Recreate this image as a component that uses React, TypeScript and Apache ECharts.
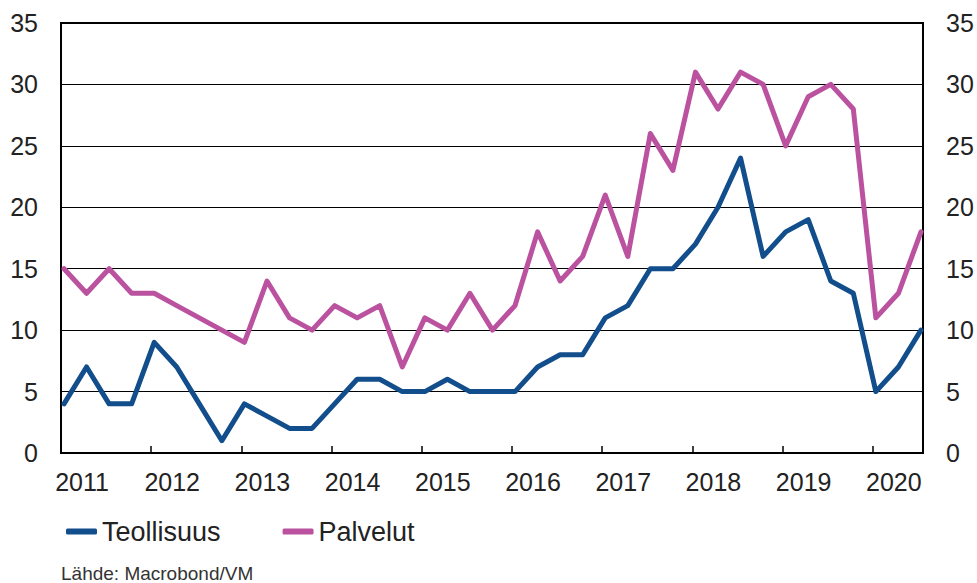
import React, { useEffect, useRef } from "react";
import * as echarts from "echarts";

const quarters: string[] = [];
for (let y = 2011; y <= 2020; y++) {
  for (let q = 1; q <= 4; q++) {
    if (y === 2020 && q === 4) break;
    quarters.push(`${y}Q${q}`);
  }
}

const teollisuus = [4, 7, 4, 4, 9, 7, 4, 1, 4, 3, 2, 2, 4, 6, 6, 5, 5, 6, 5, 5, 5, 7, 8, 8, 11, 12, 15, 15, 17, 20, 24, 16, 18, 19, 14, 13, 5, 7, 10];
const palvelut = [15, 13, 15, 13, 13, 12, 11, 10, 9, 14, 11, 10, 12, 11, 12, 7, 11, 10, 13, 10, 12, 18, 14, 16, 21, 16, 26, 23, 31, 28, 31, 30, 25, 29, 30, 28, 11, 13, 18];

const seriesNames = ["Teollisuus", "Palvelut"];
const yTicks = [0, 5, 10, 15, 20, 25, 30, 35];
const sourceText = "Lähde: Macrobond/VM";

const BLUE = "#114e8b";
const PINK = "#bb52a0";
const TEXT = "#222222";
const FONT = "'Liberation Sans', Arial, sans-serif";

export default function App() {
  const ref = useRef<HTMLDivElement>(null);

  useEffect(() => {
    document.body.style.margin = "0";
    if (!ref.current) return;
    const chart = echarts.init(ref.current, undefined, { renderer: "svg" });

    const toPairs = (arr: number[]) => arr.map((v, i) => [i, v]);

    const yAxisBase = {
      type: "value" as const,
      min: yTicks[0],
      max: yTicks[yTicks.length - 1],
      interval: 5,
      axisLine: { show: false },
      axisTick: { show: false },
      axisLabel: { color: TEXT, fontSize: 25, fontFamily: FONT, margin: 23 },
    };

    chart.setOption({
      animation: false,
      backgroundColor: "#ffffff",
      grid: {
        left: 61,
        top: 23,
        width: 862,
        height: 430,
        show: true,
        borderColor: "#000",
        borderWidth: 2,
        backgroundColor: "transparent",
      },
      xAxis: [
        {
          type: "value",
          min: -0.133,
          max: quarters.length - 1 + 0.09,
          show: false,
        },
        {
          type: "value",
          min: 2011,
          max: 2020.556,
          interval: 1,
          position: "bottom",
          axisLine: { show: true, lineStyle: { color: "#000", width: 2 } },
          axisTick: { show: true, inside: true, length: 7, lineStyle: { color: "#000", width: 1.5 } },
          splitLine: { show: false },
          axisLabel: {
            color: TEXT,
            fontSize: 25,
            fontFamily: FONT,
            margin: 16,
            padding: [0, 0, 0, 42],
            showMaxLabel: false,
            formatter: (v: number) => String(Math.round(v)),
          },
        },
      ],
      yAxis: [
        {
          ...yAxisBase,
          position: "left",
          splitLine: { show: true, lineStyle: { color: "#000", width: 1 } },
        },
        {
          ...yAxisBase,
          position: "right",
          splitLine: { show: false },
        },
      ],
      legend: {
        left: 61,
        top: 513,
        itemWidth: 31,
        itemHeight: 6,
        itemGap: 62,
        icon: "roundRect",
        textStyle: { color: TEXT, fontSize: 27, fontFamily: FONT },
        data: seriesNames,
      },
      graphic: [
        {
          type: "text",
          left: 61,
          top: 564,
          style: { text: sourceText, fill: "#333", fontSize: 19, fontFamily: FONT },
        },
      ],
      series: [
        {
          name: seriesNames[0],
          type: "line",
          xAxisIndex: 0,
          yAxisIndex: 0,
          data: toPairs(teollisuus),
          symbol: "none",
          lineStyle: { color: BLUE, width: 5, join: "round", cap: "round" },
          itemStyle: { color: BLUE },
          z: 3,
        },
        {
          name: seriesNames[1],
          type: "line",
          xAxisIndex: 0,
          yAxisIndex: 0,
          data: toPairs(palvelut),
          symbol: "none",
          lineStyle: { color: PINK, width: 5, join: "round", cap: "round" },
          itemStyle: { color: PINK },
          z: 2,
        },
      ],
    });

    return () => chart.dispose();
  }, []);

  return <div ref={ref} style={{ width: 977, height: 583 }} />;
}
